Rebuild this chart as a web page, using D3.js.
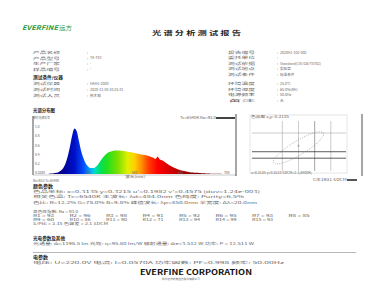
<!DOCTYPE html>
<html lang="zh">
<head>
<meta charset="UTF-8" />
<title>光谱分析测试报告</title>
<script src="https://d3js.org/d3.v7.min.js"></script>
<style>
  html, body { margin: 0; padding: 0; background: #fff; overflow: hidden; }
  svg { display: block; }
  text { font-family: "Noto Sans CJK SC", "Noto Sans", sans-serif; fill: #666; }
  .hd { font-weight: bold; fill: #222; }
</style>
</head>
<body>
<svg width="388" height="300"></svg>
<script>
// ---- data ----
const wavelengths = d3.range(380, 781, 5);
const spectrum = [
  0, 0, 0, 0.005, 0.01, 0.015, 0.025, 0.04, 0.07, 0.12,
  0.22, 0.38, 0.6, 0.85, 1.0, 0.93, 0.7, 0.48, 0.33, 0.22,
  0.16, 0.13, 0.13, 0.15, 0.2, 0.27, 0.34, 0.4, 0.45, 0.48,
  0.5, 0.51, 0.515, 0.515, 0.51, 0.505, 0.5, 0.49, 0.48, 0.47,
  0.46, 0.45, 0.44, 0.43, 0.42, 0.41, 0.395, 0.38, 0.36, 0.33,
  0.38, 0.32, 0.3, 0.27, 0.23, 0.2, 0.17, 0.14, 0.12, 0.1,
  0.08, 0.07, 0.06, 0.05, 0.04, 0.035, 0.03, 0.025, 0.02, 0.017,
  0.014, 0.012, 0.01, 0.008, 0.006, 0.005, 0.004, 0.003, 0.002, 0.001, 0
];
const xTicks = [380, 480, 580, 680, 780];
const yTicks = [0, 0.2, 0.4, 0.6, 0.8, 1.0];
const specColors = [
  [380, "#1a0050"], [420, "#00008b"], [450, "#0010c8"], [470, "#0050ff"],
  [485, "#00b0ff"], [495, "#00e0c0"], [505, "#00e060"], [520, "#20e020"],
  [545, "#80e000"], [565, "#e0f000"], [580, "#ffd000"], [595, "#ff9000"],
  [610, "#ff4000"], [630, "#ff0000"], [660, "#d00000"], [700, "#900000"], [780, "#600000"]
];

const cieGridX = [0.310, 0.315, 0.320, 0.325];
const cieGridY = [0.331, 0.3165, 0.3115];
const ellipse = { x: 0.315, y: 0.3195, rx: 29, ry: 7, angle: -31 };

const leftInfo = [["产品名称", ""], ["产品型号", "TA-753"], ["生产厂家", "-"], ["样品编号", "-"]];
const leftTest = [["测试仪器", "HAAS-2000"], ["测试时间", "2020-11-05 10:25:31"], ["测试人员", "技术部"]];
const rightInfo = [["报告编号", "2020A1-102-002"], ["委托单位", ""], ["测试依据", "Standard(CIE/GB/T5702)"],
                   ["测试地点", "实验室"], ["测试条件", "标准条件"]];
const rightTest = [["环境温度", "25.0℃"], ["环境湿度", "65.0%(RH)"], ["电源频率", "50.0Hz"], ["备注", "无"]];

const colorLines = [
  "色品坐标: x=0.3135  y=0.3215  u'=0.1982  v'=0.4575  (duv=1.24e-003)",
  "相关色温: Tc=6540K  主波长: λd=484.0nm  色纯度: Purity=6.5%",
  "色比: R=12.2%  G=78.0%  B=9.8%  峰值波长: λp=450.0nm  半宽度: Δλ=20.0nm"
];
const criNames = ["R1", "R2", "R3", "R4", "R5", "R6", "R7", "R8",
                  "R9", "R10", "R11", "R12", "R13", "R14", "R15"];
const criValues = [93, 96, 98, 91, 92, 95, 93, 85, 60, 86, 90, 71, 94, 99, 93];

// ---- setup ----
const svg = d3.select("svg");
function txt(x, y, s, size, cls, len) {
  const t = svg.append("text").attr("x", x).attr("y", y)
    .attr("dominant-baseline", "middle").attr("font-size", size).text(s);
  if (cls) t.attr("class", cls);
  if (len) t.attr("textLength", len).attr("lengthAdjust", "spacingAndGlyphs");
  return t;
}

// header
txt(22, 28, "EVERFINE", 6.5, null, 36).attr("font-style", "italic").attr("font-weight", "bold")
  .style("fill", "#2d9a3a");
txt(59, 28, "远方", 6, null, 13).style("fill", "#2d9a3a");
txt(152, 33, "光 谱 分 析 测 试 报 告", 5.5, "hd", 89);

function infoBlock(rows, x0, xc, y0, step) {
  rows.forEach((r, i) => {
    const y = y0 + i * step;
    txt(x0, y, r[0], 3.8, null, 27);
    txt(xc, y, ":", 3.8);
    if (r[1]) txt(xc + 3, y, r[1], 3.6);
  });
}
infoBlock(leftInfo, 33, 87, 53, 5.5);
txt(33, 78, "测试条件/仪器", 4.4, "hd", 30);
infoBlock(leftTest, 33, 87, 84, 5.8);
infoBlock(rightInfo, 228, 277, 53, 5.4);
infoBlock(rightTest, 228, 277, 84, 5.7);

// ---- spectrum ----
const x = d3.scaleLinear().domain([360, 800]).range([33, 236]);
const y = d3.scaleLinear().domain([0, 1.25]).range([174, 117]);

txt(33, 111, "光谱分布图", 4.4, "hd", 22);

const grad = svg.append("defs").append("linearGradient").attr("id", "spec")
  .attr("gradientUnits", "userSpaceOnUse")
  .attr("x1", x(380)).attr("x2", x(780)).attr("y1", 0).attr("y2", 0);
grad.selectAll("stop").data(specColors).join("stop")
  .attr("offset", d => (d[0] - 380) / 400)
  .attr("stop-color", d => d[1]);

const pts = wavelengths.map((w, i) => [w, spectrum[i]]);
svg.append("path").datum(pts)
  .attr("fill", "url(#spec)")
  .attr("d", d3.area().x(d => x(d[0])).y0(y(0)).y1(d => y(d[1])).curve(d3.curveMonotoneX));

// frame
svg.append("line").attr("x1", 33).attr("x2", 33).attr("y1", 116).attr("y2", 175).attr("stroke", "#222").attr("stroke-width", 0.8);
svg.append("line").attr("x1", 33).attr("x2", 236).attr("y1", 175).attr("y2", 175).attr("stroke", "#aaa").attr("stroke-width", 0.6);
svg.append("line").attr("x1", 236).attr("x2", 236).attr("y1", 114).attr("y2", 176).attr("stroke", "#222").attr("stroke-width", 0.8);

svg.selectAll(".yt").data(yTicks).join("text").attr("class", "yt")
  .attr("x", 35).attr("y", d => y(d) - 1).attr("dominant-baseline", "middle")
  .attr("font-size", 3.3).text(d => d.toFixed(1));
svg.selectAll(".xt").data(xTicks).join("text").attr("class", "xt")
  .attr("x", d => x(d)).attr("y", 173).attr("text-anchor", "middle")
  .attr("dominant-baseline", "middle").attr("font-size", 3.3).text(d => d);
txt(33, 118.3, "相对光谱功率", 3.2, null, 17);
txt(125, 177, "波长(nm)", 3.4, null, 20);
txt(180, 118, "Tc=6540K  Ra=93.0 ", 3.3, null, 36);
svg.append("rect").attr("x", 216).attr("y", 117).attr("width", 19).attr("height", 2).attr("fill", "#444");
txt(33, 180.8, "Ra=93.0  Tc=6540K", 3.2, null, 26);

// ---- chromaticity ----
const cx = d3.scaleLinear().domain([0.300, 0.330]).range([250, 347]);
const cy = d3.scaleLinear().domain([0.300, 0.345]).range([173, 115]);

svg.append("rect").attr("x", 250).attr("y", 115).attr("width", 97).attr("height", 58)
  .attr("fill", "none").attr("stroke", "#ccc").attr("stroke-width", 0.5);
svg.selectAll(".gx").data(cieGridX).join("line").attr("class", "gx")
  .attr("x1", d => cx(d)).attr("x2", d => cx(d)).attr("y1", 121).attr("y2", 171)
  .attr("stroke", (d, i) => i === 2 ? "#666" : "#aaa").attr("stroke-width", 0.6);
svg.selectAll(".gy").data(cieGridY).join("line").attr("class", "gy")
  .attr("x1", 252).attr("x2", 346).attr("y1", d => cy(d)).attr("y2", d => cy(d))
  .attr("stroke", (d, i) => i === 0 ? "#aaa" : "#333").attr("stroke-width", (d, i) => i === 0 ? 0.6 : 0.8);
svg.append("ellipse")
  .attr("cx", 0).attr("cy", 0).attr("rx", ellipse.rx).attr("ry", ellipse.ry)
  .attr("transform", `translate(${cx(ellipse.x)},${cy(ellipse.y)}) rotate(${ellipse.angle})`)
  .attr("fill", "none").attr("stroke", "#777").attr("stroke-width", 0.6).attr("stroke-dasharray", "0.8,1.4");
svg.append("path")
  .attr("d", `M${cx(ellipse.x) - 1.5},${cy(ellipse.y) - 2}h3M${cx(ellipse.x)},${cy(ellipse.y) - 3.5}v3`)
  .attr("stroke", "#999").attr("stroke-width", 0.5);
txt(251, 117.5, "色品图    x,y: 0.3135", 3.3, null, 38);
txt(251, 173, "x=0.3135  y=0.3215  SDCM=2.1(6500K)", 3.2, null, 61);
txt(313, 180, "CIE1931  SDCM", 3.1, null, 34);
svg.append("rect").attr("x", 347).attr("y", 179).attr("width", 10).attr("height", 2).attr("fill", "#555");
svg.append("line").attr("x1", 362).attr("x2", 362).attr("y1", 114).attr("y2", 176).attr("stroke", "#222").attr("stroke-width", 0.8);

// ---- parameters ----
txt(33, 186.5, "颜色参数", 4.4, "hd", 20);
const lineLens = [227, 211, 224];
colorLines.forEach((s, i) => txt(33, 192 + i * 5.3, s, 3.6, null, lineLens[i]));

txt(33, 212, "显色性指数: Ra = 93.0", 3.6, null, 45);
criNames.forEach((n, i) => {
  const col = i % 8, row = Math.floor(i / 8);
  txt(33 + col * 36.5, 216.2 + row * 4, `${n} = ${criValues[i]}`, 3.4, null, 21);
});
txt(33, 224.2, "S/P比 = 2.15     色容差 = 2.1 SDCM", 3.4, null, 75);

txt(33, 238.5, "光电参数及其他", 4.4, "hd", 32);
txt(33, 243.8, "光通量: Φ=1198.5 lm   光效: η=95.80 lm/W   辐射通量: Φe=3.512 W   功率: P = 12.511 W", 3.6, null, 221);

svg.append("line").attr("x1", 33).attr("x2", 356).attr("y1", 252.5).attr("y2", 252.5)
  .attr("stroke", "#888").attr("stroke-width", 0.6);

txt(33, 258, "电参数", 4.4, "hd", 15);
txt(33, 263, "电压: U=220.0V   电流: I=0.0570A   功率因数: PF=0.998   频率: 50.00Hz", 3.6, null, 251);

txt(140, 273.5, "EVERFINE CORPORATION", 7, "hd", 112).style("fill", "#111");
txt(162, 279.5, "杭州远方光电信息股份有限公司", 2.8, null, 38);
</script>
</body>
</html>
